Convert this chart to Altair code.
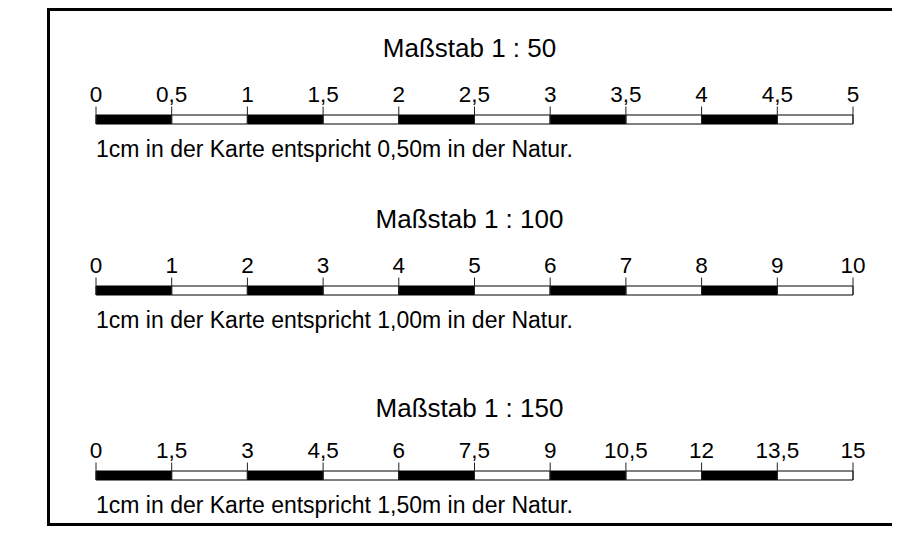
import altair as alt
import pandas as pd

# ---------------- data ----------------
TITLES = ["Maßstab 1 : 50", "Maßstab 1 : 100", "Maßstab 1 : 150"]
TICK_LABELS = [
    ["0", "0,5", "1", "1,5", "2", "2,5", "3", "3,5", "4", "4,5", "5"],
    ["0", "1", "2", "3", "4", "5", "6", "7", "8", "9", "10"],
    ["0", "1,5", "3", "4,5", "6", "7,5", "9", "10,5", "12", "13,5", "15"],
]
CAPTIONS = [
    "1cm in der Karte entspricht 0,50m in der Natur.",
    "1cm in der Karte entspricht 1,00m in der Natur.",
    "1cm in der Karte entspricht 1,50m in der Natur.",
]
N_SEG = 10

# ---------------- layout ----------------
W, H = 884, 518          # chart size in px
OFF = 8                  # page margin
BAR_TOP = [115, 286, 471]
BAR_H = 9
TITLE_BASE = [57, 228, 417]
FONT = "Liberation Sans, Arial, sans-serif"

# x scale: segment 0 -> page x 96, segment 10 -> page x 853
PX_PER_SEG = (853 - 96) / N_SEG
x0 = -(96 - OFF) / PX_PER_SEG
x1 = x0 + W / PX_PER_SEG
xs = alt.Scale(domain=[x0, x1], nice=False, zero=False)
ys = alt.Scale(domain=[0, H], reverse=True, nice=False, zero=False)

seg_rows, tick_rows, title_rows, cap_rows = [], [], [], []
for r in range(len(TITLES)):
    top = BAR_TOP[r] - OFF
    for i in range(N_SEG):
        seg_rows.append(dict(x=i, x2=i + 1, y=top, y2=top + BAR_H,
                             fill="black" if i % 2 == 0 else "white"))
    for i, lab in enumerate(TICK_LABELS[r]):
        tick_rows.append(dict(x=i, yt=top - 8.5, yb=top + BAR_H,
                              ylab=top - 13, label=lab))
    title_rows.append(dict(x=N_SEG / 2, y=TITLE_BASE[r] - OFF, text=TITLES[r]))
    cap_rows.append(dict(x=0, y=top + BAR_H + 33, text=CAPTIONS[r]))

segs = pd.DataFrame(seg_rows)
ticks = pd.DataFrame(tick_rows)
titles = pd.DataFrame(title_rows)
caps = pd.DataFrame(cap_rows)

X = lambda f: alt.X(f, scale=xs, axis=None)
Y = lambda f: alt.Y(f, scale=ys, axis=None)

bars = alt.Chart(segs).mark_rect(stroke="black", strokeWidth=1).encode(
    x=X("x:Q"), x2="x2:Q", y=Y("y:Q"), y2="y2:Q",
    fill=alt.Fill("fill:N", scale=None),
)
tick_marks = alt.Chart(ticks).mark_rule(color="#222222", strokeWidth=1).encode(
    x=X("x:Q"), y=Y("yt:Q"), y2="yb:Q"
)
tick_text = alt.Chart(ticks).mark_text(
    font=FONT, fontSize=22.5, align="center", baseline="alphabetic", color="black"
).encode(x=X("x:Q"), y=Y("ylab:Q"), text="label:N")
title_text = alt.Chart(titles).mark_text(
    font=FONT, fontSize=26, align="center", baseline="alphabetic", color="black", dx=-5
).encode(x=X("x:Q"), y=Y("y:Q"), text="text:N")
cap_text = alt.Chart(caps).mark_text(
    font=FONT, fontSize=23, align="left", baseline="alphabetic", color="black", dx=0
).encode(x=X("x:Q"), y=Y("y:Q"), text="text:N")

# frame
frame_left = alt.Chart(titles).mark_rule(color="black", strokeWidth=3).encode(
    x=alt.value(40.5), y=alt.value(0), y2=alt.value(H)
)
frame_top = alt.Chart(titles).mark_rule(color="black", strokeWidth=3).encode(
    x=alt.value(39), x2=alt.value(W), y=alt.value(1.5)
)
frame_bottom = alt.Chart(titles).mark_rule(color="black", strokeWidth=3).encode(
    x=alt.value(39), x2=alt.value(W), y=alt.value(H - 1.5)
)

chart = alt.layer(
    bars, tick_marks, tick_text, title_text, cap_text,
    frame_left, frame_top, frame_bottom,
).properties(
    width=W, height=H, padding=0,
    autosize=alt.AutoSizeParams(type="none"),
    background="white",
).configure_view(stroke=None)

chart.save("out.html", embed_options={"renderer": "svg", "actions": False})
